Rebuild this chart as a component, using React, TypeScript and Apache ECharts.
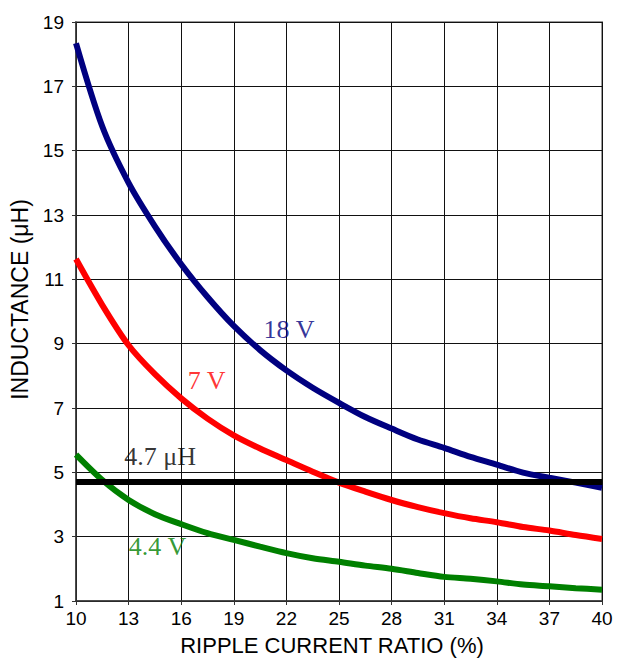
import React, { useEffect, useRef } from "react";
import * as echarts from "echarts";

const ratio = [10, 11.5, 13, 14.5, 16, 17.5, 19, 20.5, 22, 23.5, 25, 26.5, 28, 29.5, 31, 32.5, 34, 35.5, 37, 38.5, 40];
const v18 = [18.34, 15.75, 14.0, 12.65, 11.47, 10.45, 9.55, 8.8, 8.17, 7.63, 7.16, 6.72, 6.36, 6.02, 5.76, 5.48, 5.24, 4.99, 4.83, 4.68, 4.52];
const v7 = [11.63, 10.2, 8.95, 8.05, 7.3, 6.67, 6.15, 5.74, 5.38, 5.02, 4.68, 4.4, 4.14, 3.92, 3.73, 3.57, 3.45, 3.3, 3.19, 3.05, 2.93];
const v44 = [5.55, 4.76, 4.14, 3.7, 3.39, 3.11, 2.9, 2.69, 2.49, 2.33, 2.22, 2.1, 2.0, 1.87, 1.75, 1.69, 1.61, 1.51, 1.46, 1.4, 1.35];
const refValue = 4.7;
const labelTexts = ["18 V", "7 V", "4.7 μH", "4.4 V"];
const labelX = [22.15, 17.45, 14.8, 14.65];
const labelY = [9.45, 7.85, 5.48, 2.7];
const labelColors = ["#000080", "#ff0000", "#000000", "#008000"];

export default function App() {
  const ref = useRef<HTMLDivElement>(null);
  useEffect(() => {
    const chart = echarts.init(ref.current!, null, { renderer: "svg" });
    const line = (vals: number[], color: string) => ({
      type: "line",
      data: ratio.map((x, i) => [x, vals[i]]),
      smooth: 0.3,
      showSymbol: false,
      symbol: "none",
      lineStyle: { color, width: 6 },
      z: 3,
    });
    chart.setOption({
      animation: false,
      backgroundColor: "#ffffff",
      grid: {
        left: 76,
        right: 20,
        top: 22,
        bottom: 58,
        show: true,
        borderColor: "#999999",
        borderWidth: 2,
      },
      xAxis: {
        type: "value",
        min: 10,
        max: 40,
        interval: 3,
        name: "RIPPLE CURRENT RATIO (%)",
        nameLocation: "middle",
        nameGap: 33,
        nameTextStyle: {
          fontFamily: "Liberation Sans",
          fontSize: 22,
          color: "#000",
          padding: [0, 14, 0, 0],
        },
        axisLine: { show: true, lineStyle: { color: "#333", width: 1.5 } },
        axisTick: { show: true, length: 4, lineStyle: { color: "#333" } },
        axisLabel: { fontFamily: "Liberation Sans", fontSize: 19, color: "#000", margin: 8 },
        splitLine: { show: true, lineStyle: { color: "#111", width: 1 } },
      },
      yAxis: {
        type: "value",
        min: 1,
        max: 19,
        interval: 2,
        name: "INDUCTANCE (μH)",
        nameLocation: "middle",
        nameGap: 44,
        nameTextStyle: {
          fontFamily: "Liberation Sans",
          fontSize: 23,
          color: "#000",
          padding: [0, 0, 0, 24],
        },
        axisLine: { show: true, lineStyle: { color: "#333", width: 1.5 } },
        axisTick: { show: true, length: 4, lineStyle: { color: "#333" } },
        axisLabel: { fontFamily: "Liberation Sans", fontSize: 19, color: "#000", margin: 12 },
        splitLine: { show: true, lineStyle: { color: "#111", width: 1 } },
      },
      series: [
        line(v18, "#000080"),
        line(v7, "#ff0000"),
        line(v44, "#008000"),
        {
          type: "line",
          data: [
            [10, refValue],
            [40, refValue],
          ],
          showSymbol: false,
          symbol: "none",
          lineStyle: { color: "#000", width: 6 },
          z: 4,
        },
        {
          type: "scatter",
          symbolSize: 0,
          data: labelTexts.map((t, i) => ({
            value: [labelX[i], labelY[i]],
            label: {
              show: true,
              position: "inside",
              formatter: t,
              color: labelColors[i],
              fontFamily: "Liberation Serif",
              fontSize: 26,
            },
          })),
          z: 5,
        },
      ],
    });
    return () => chart.dispose();
  }, []);
  return (
    <div
      ref={ref}
      style={{ position: "fixed", left: 0, top: 0, width: 622, height: 661 }}
    />
  );
}
